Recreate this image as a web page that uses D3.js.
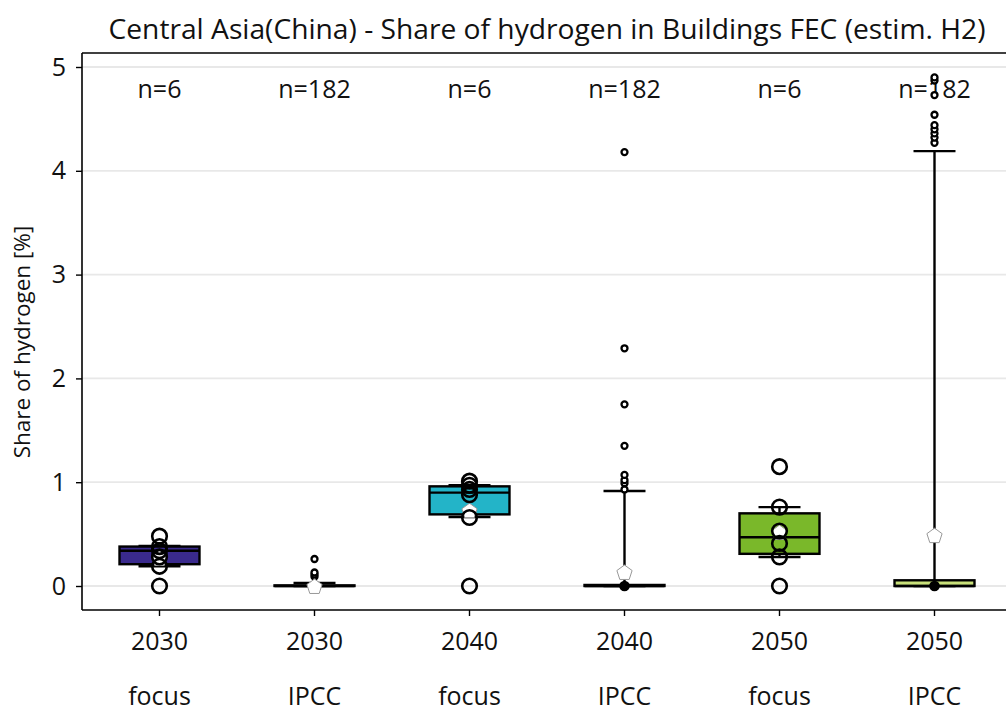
<!DOCTYPE html>
<html><head><meta charset="utf-8">
<script src="https://cdn.jsdelivr.net/npm/d3@7"></script>
<style>
html,body{margin:0;padding:0;background:#fff;}
svg{display:block;font-family:"Open Sans",sans-serif;}
</style></head>
<body><svg id="chart" width="1006" height="713"></svg>
<script>
// ---- data ----
const years   = ["2030","2030","2040","2040","2050","2050"];
const sources = ["focus","IPCC","focus","IPCC","focus","IPCC"];
const counts  = [6,182,6,182,6,182];
const colors  = ["#3a2a8d","#2f6f9e","#23b4c8","#2aa58a","#7ab82a","#c8e07a"];
const q1      = [0.21, 0.0,  0.69, 0.0,  0.31, 0.0];
const median  = [0.34, 0.0,  0.90, 0.0,  0.47, 0.0];
const q3      = [0.38, 0.006,0.96, 0.01, 0.70, 0.055];
const whiskLo = [0.19, 0.0,  0.665,0.0,  0.28, 0.0];
const whiskHi = [0.385,0.03, 0.97, 0.915,0.76, 4.19];
const means   = [0.27, 0.0,  0.73, 0.135,0.52, 0.49];
const focusPoints = [
  [0, 0.19, 0.28, 0.34, 0.38, 0.48],
  [],
  [0, 0.66, 0.88, 0.93, 0.97, 1.01],
  [],
  [0, 0.28, 0.41, 0.53, 0.76, 1.15],
  []
];
const fliers = [
  [],
  [0.09, 0.11, 0.13, 0.26],
  [],
  [0, 0.93, 0.99, 1.02, 1.07, 1.35, 1.75, 2.29, 4.18],
  [],
  [0, 4.27, 4.32, 4.36, 4.40, 4.44, 4.54, 4.73, 4.87, 4.90]
];
const yTicks = [0,1,2,3,4,5];
const titleText = "Central Asia(China) - Share of hydrogen in Buildings FEC (estim. H2)";
const yLabel = "Share of hydrogen [%]";

// ---- layout ----
const svg = d3.select("#chart");
const L = 82, R = 1012, T = 53, B = 610;
const idx = d3.range(years.length);
const x = d3.scaleBand().domain(idx).range([L, R]).padding(0);
const y = d3.scaleLinear().domain([-0.2312, 5.1349]).range([B, T]);
const cx = i => x(i) + x.bandwidth()/2;
const boxW = x.bandwidth()*0.516;
const capW = boxW*0.525;
const FS = 25;

// grid
svg.append("g").selectAll("line").data(yTicks).join("line")
  .attr("x1", L).attr("x2", R).attr("y1", d=>y(d)).attr("y2", d=>y(d))
  .attr("stroke", "#e8e8e8").attr("stroke-width", 1.8);

// axes frame
svg.append("line").attr("x1",L).attr("x2",R).attr("y1",T).attr("y2",T).attr("stroke","#000").attr("stroke-width",1.6);
svg.append("line").attr("x1",L).attr("x2",R).attr("y1",B).attr("y2",B).attr("stroke","#000").attr("stroke-width",1.6);
svg.append("line").attr("x1",L).attr("x2",L).attr("y1",T).attr("y2",B).attr("stroke","#000").attr("stroke-width",1.6);

// y axis
const yAxis = d3.axisLeft(y).tickValues(yTicks).tickSize(6).tickPadding(10).tickFormat(d3.format("d"));
const gy = svg.append("g").attr("transform",`translate(${L},0)`).call(yAxis);
gy.select(".domain").remove();
gy.selectAll(".tick line").attr("stroke","#000").attr("stroke-width",1.4);
gy.selectAll(".tick text").attr("font-size",FS).attr("font-family","Open Sans").attr("fill","#111");

// x axis
const xAxis = d3.axisBottom(x).tickSize(6).tickFormat(()=>"");
const gx = svg.append("g").attr("transform",`translate(0,${B})`).call(xAxis);
gx.select(".domain").remove();
gx.selectAll(".tick line").attr("stroke","#000").attr("stroke-width",1.4);
const xt = svg.append("g").attr("font-size",FS).attr("fill","#111").attr("text-anchor","middle");
xt.selectAll("text.yr").data(idx).join("text").attr("class","yr")
  .attr("x", d=>cx(d)).attr("y", 650).text(d=>years[d]);
xt.selectAll("text.src").data(idx).join("text").attr("class","src")
  .attr("x", d=>cx(d)).attr("y", 705).text(d=>sources[d]);

// n labels
svg.append("g").attr("font-size",FS).attr("fill","#111").attr("text-anchor","middle")
  .selectAll("text").data(idx).join("text")
  .attr("x", d=>cx(d)).attr("y", 98).text(d=>"n="+counts[d]);

// title
svg.append("text").attr("x",(L+R)/2).attr("y",39).attr("text-anchor","middle")
  .attr("font-size",28.2).attr("fill","#111").text(titleText);

// y label
svg.append("text").attr("transform",`translate(30,342) rotate(-90)`)
  .attr("text-anchor","middle").attr("font-size",22.5).attr("fill","#111").text(yLabel);

// boxes
const g = svg.append("g");
idx.forEach(i=>{
  const c = cx(i);
  g.append("line").attr("x1",c).attr("x2",c).attr("y1",y(whiskLo[i])).attr("y2",y(q1[i])).attr("stroke","#000").attr("stroke-width",2.4);
  g.append("line").attr("x1",c).attr("x2",c).attr("y1",y(q3[i])).attr("y2",y(whiskHi[i])).attr("stroke","#000").attr("stroke-width",2.4);
  g.append("line").attr("x1",c-capW/2).attr("x2",c+capW/2).attr("y1",y(whiskLo[i])).attr("y2",y(whiskLo[i])).attr("stroke","#000").attr("stroke-width",2.4);
  g.append("line").attr("x1",c-capW/2).attr("x2",c+capW/2).attr("y1",y(whiskHi[i])).attr("y2",y(whiskHi[i])).attr("stroke","#000").attr("stroke-width",2.4);
  g.append("rect").attr("x",c-boxW/2).attr("width",boxW)
    .attr("y",y(q3[i])).attr("height",Math.max(0.5,y(q1[i])-y(q3[i])))
    .attr("fill",colors[i]).attr("stroke","#000").attr("stroke-width",2.4);
  g.append("line").attr("x1",c-boxW/2).attr("x2",c+boxW/2).attr("y1",y(median[i])).attr("y2",y(median[i])).attr("stroke","#000").attr("stroke-width",2.4);
  // fliers: those at/below the lower quartile overlap many times and render as a solid dot
  g.selectAll(null).data(fliers[i]).join("circle")
    .attr("cx",c).attr("cy",d=>y(d)).attr("r",d=>d<=q1[i]?4.2:3)
    .attr("fill",d=>d<=q1[i]?"#000":"#fff").attr("stroke","#000").attr("stroke-width",2.3);
});

// mean pentagons
const pent = (r)=>{
  const pts = d3.range(5).map(k=>{const a=-Math.PI/2+k*2*Math.PI/5;return [r*Math.cos(a),r*Math.sin(a)];});
  return "M"+pts.map(p=>p.join(",")).join("L")+"Z";
};
idx.forEach(i=>{
  g.append("path").attr("d",pent(8)).attr("transform",`translate(${cx(i)},${y(means[i])+1})`)
    .attr("fill","#fff").attr("stroke","#999").attr("stroke-width",1);
});

// focus points (large open circles)
idx.forEach(i=>{
  g.selectAll(null).data(focusPoints[i]).join("circle")
    .attr("cx",cx(i)).attr("cy",d=>y(d)).attr("r",7.3)
    .attr("fill","none").attr("stroke","#000").attr("stroke-width",2.6);
});
</script></body></html>
